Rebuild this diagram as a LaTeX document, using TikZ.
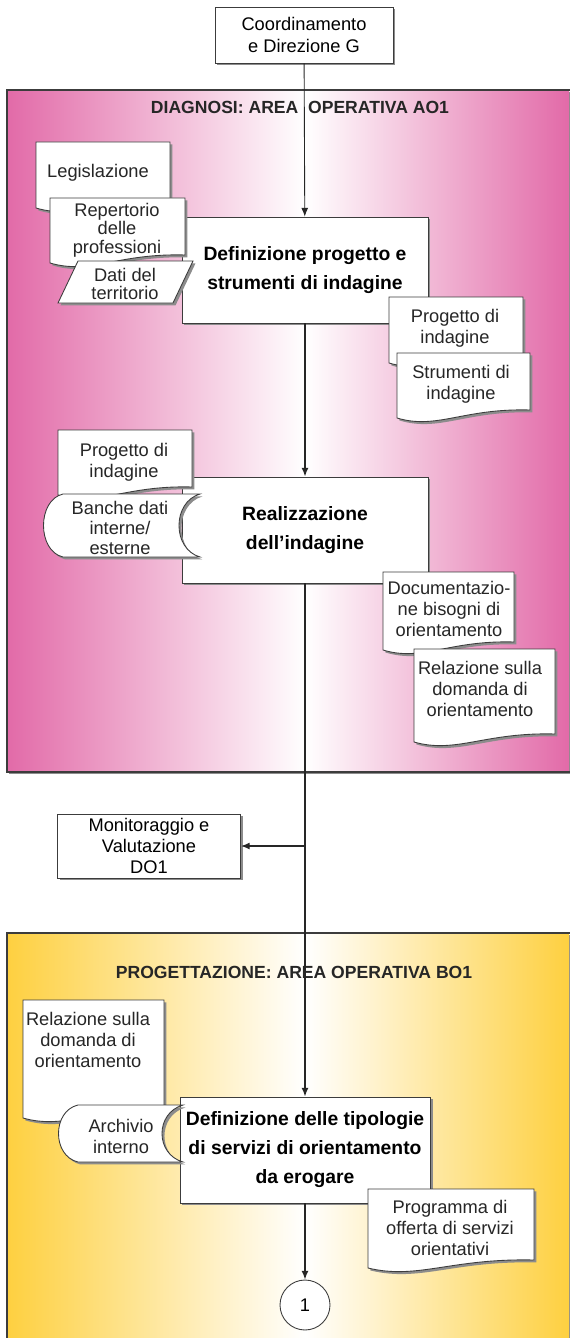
\documentclass[tikz,border=0pt]{standalone}
\usepackage{fontspec}
\setmainfont{Liberation Sans}
\usetikzlibrary{arrows.meta,shadows}

\definecolor{pinkA}{RGB}{226,106,168}
\definecolor{yellowB}{RGB}{254,208,64}
\definecolor{linegray}{RGB}{60,60,60}

% document shape: x1, top, x2, bottom (left end of the wave)
\newcommand{\docpath}[4]{(#1,#2) -- (#3,#2) -- (#3,#4-8) .. controls ({#1+0.5*(#3-#1)},#4-10) and ({#1+0.3*(#3-#1)},#4+12) .. (#1,#4) -- cycle}
% stored data shape: leftmost x, top, right x, bottom
\newcommand{\storepath}[4]{(#1+20,#2) -- (#3,#2) .. controls (#3-28,#2+8) and (#3-28,#4-8) .. (#3,#4) -- (#1+20,#4) .. controls (#1-6,#4-6) and (#1-6,#2+6) .. (#1+20,#2) -- cycle}

\tikzset{
  shade/.style={drop shadow={shadow xshift=1.4pt, shadow yshift=-1.4pt, fill=black!45, opacity=1}},
  box/.style={draw=linegray, fill=white, line width=0.5pt, shade, align=center,
    minimum width=4.92cm, minimum height=2.12cm, font=\fontsize{11}{16.5}\selectfont\bfseries},
  plainbox/.style={draw=linegray, fill=white, line width=0.5pt, shade, align=center,
    inner sep=0pt, font=\fontsize{10.4}{12}\selectfont},
  docfill/.style={draw=linegray, fill=white, line width=0.5pt, shade},
  doctext/.style={align=center, inner sep=0pt, text=black!85, font=\fontsize{10.4}{12}\selectfont},
  paneltitle/.style={font=\fontsize{10}{12}\selectfont\bfseries, text=black!85},
  flow/.style={draw=black!85, line width=0.8pt, -{Latex[length=5pt,width=4pt]}},
  thinflow/.style={draw=black!85, line width=0.5pt, -{Latex[length=5pt,width=4pt]}}
}

\begin{document}
\begin{tikzpicture}[x=0.02cm, y=-0.02cm]
    \useasboundingbox (0,0) rectangle (569,1338);

    % panels
    \shade[left color=pinkA, right color=white] (7,90) rectangle (305,772);
    \shade[left color=white, right color=pinkA] (305,90) rectangle (569,772);
    \draw[linegray, line width=0.6pt] (7,90) rectangle (580,772);
    \shade[left color=yellowB, right color=white] (7,933) rectangle (305,1345);
    \shade[left color=white, right color=yellowB] (305,933) rectangle (569,1345);
    \draw[linegray, line width=0.6pt] (7,933) rectangle (580,1345);

    \node[paneltitle] (titleA) at (300,107) {DIAGNOSI: AREA~ OPERATIVA AO1};
    \node[paneltitle] (titleB) at (294,972) {PROGETTAZIONE: AREA OPERATIVA BO1};

    % process boxes
    \node[plainbox, minimum width=3.56cm, minimum height=1.12cm] (coord) at (304,35) {Coordinamento\\e Direzione G};
    \node[box] (box1) at (305,270) {Definizione progetto e\\strumenti di indagine};
    \node[box] (box2) at (305,530) {Realizzazione\\dell'indagine};
    \node[plainbox, minimum width=3.66cm, minimum height=1.28cm] (mon) at (149,846) {Monitoraggio e\\Valutazione\\DO1};
    \node[box] (box3) at (305,1150) {Definizione delle tipologie\\di servizi di orientamento\\da erogare};
    \node[circle, draw=linegray, fill=white, line width=0.5pt, minimum size=1cm, inner sep=0pt,
      font=\fontsize{10.4}{12}\selectfont] (conn) at (305,1305) {1};

    \coordinate (branch) at (box2.south |- mon.east);

    \draw[thinflow] (coord) -- (box1);
    \draw[flow] (box1) -- (box2);
    \draw[flow] (box2) -- (box3);
    \draw[flow] (branch) -- (mon);
    \draw[flow] (box3) -- (conn);

    % inputs and outputs of box1
    \filldraw[docfill] \docpath{36}{142}{170}{208};
    \node[doctext] (legis) at (98,173) {Legislazione};
    \filldraw[docfill] \docpath{50}{198}{185}{263};
    \node[doctext, font=\fontsize{10.4}{10.5}\selectfont] (repert) at (117,230) {Repertorio\\delle\\professioni};
    \filldraw[docfill] (78,261) -- (193,261) -- (173,303) -- (58,303) -- cycle;
    \node[doctext, font=\fontsize{10.4}{10.5}\selectfont] (dati) at (125,284) {Dati del\\territorio};
    \filldraw[docfill] \docpath{389}{297}{523}{363};
    \node[doctext] (prog1) at (455,328) {Progetto di\\indagine};
    \filldraw[docfill] \docpath{397}{353}{530}{418};
    \node[doctext] (strum) at (461,384) {Strumenti di\\indagine};

    % inputs and outputs of box2
    \filldraw[docfill] \docpath{58}{430}{192}{495};
    \node[doctext] (prog2) at (124,462) {Progetto di\\indagine};
    \filldraw[docfill] \storepath{43}{494}{200}{557};
    \node[doctext, font=\fontsize{10.4}{11.3}\selectfont] (banche) at (120,528) {Banche dati\\interne/\\esterne};
    \filldraw[docfill] \docpath{383}{572}{514}{650};
    \node[doctext] (docu) at (449,609) {Documentazio-\\ne bisogni di\\orientamento};
    \filldraw[docfill] \docpath{414}{649}{555}{742};
    \node[doctext] (relaz1) at (480,689) {Relazione sulla\\domanda di\\orientamento};

    % inputs and outputs of box3
    \filldraw[docfill] \docpath{23}{1000}{164}{1118};
    \node[doctext] (relaz2) at (88,1040) {Relazione sulla\\domanda di\\orientamento};
    \filldraw[docfill] \storepath{58}{1105}{183}{1162};
    \node[doctext] (archivio) at (121,1136) {Archivio\\interno};
    \filldraw[docfill] \docpath{368}{1189}{534}{1268};
    \node[doctext] (progr) at (450,1228) {Programma di\\offerta di servizi\\orientativi};
\end{tikzpicture}
\end{document}
